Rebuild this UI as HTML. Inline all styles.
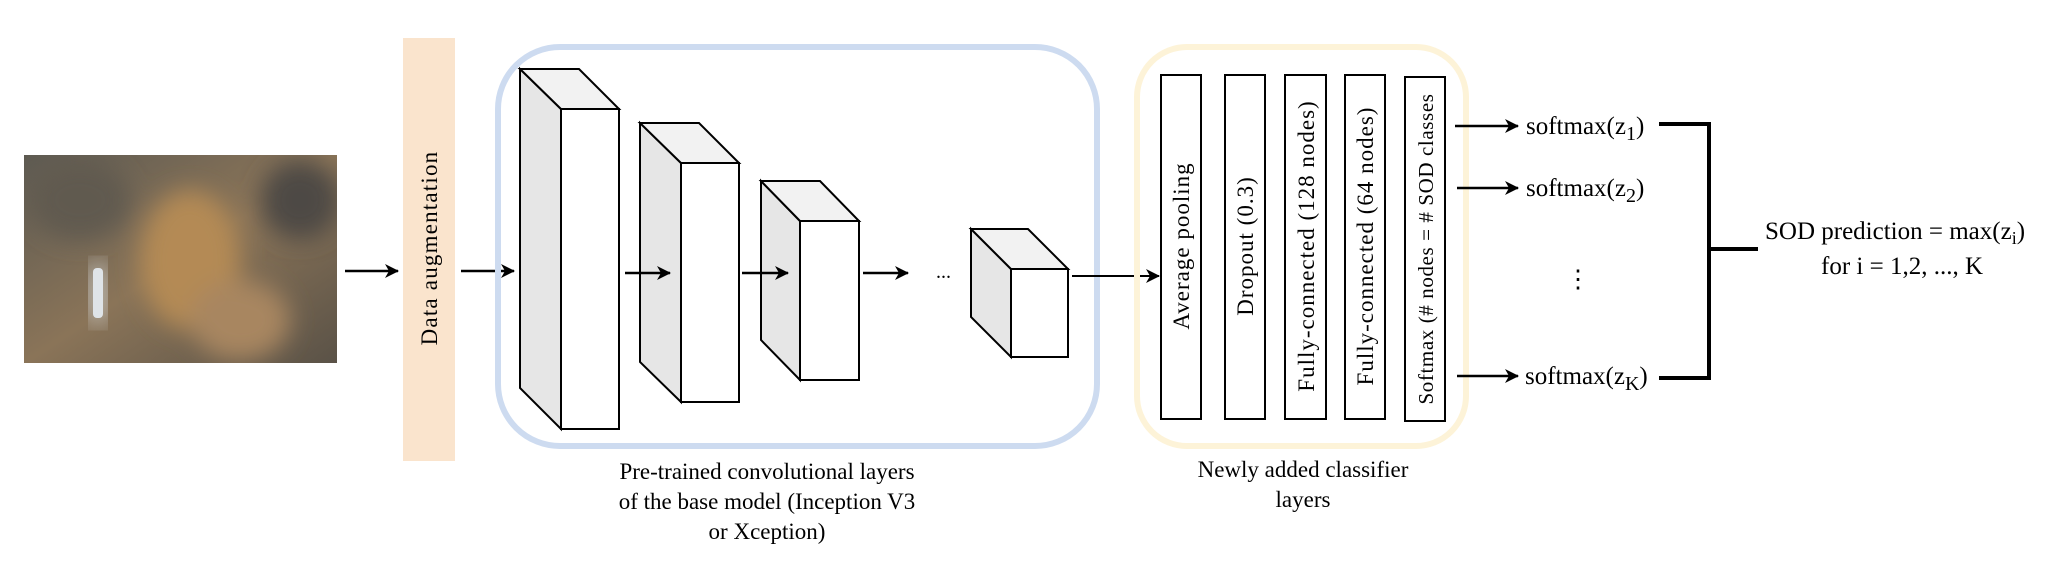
<!DOCTYPE html>
<html><head><meta charset="utf-8"><style>
html,body{margin:0;padding:0;background:#fff}
svg{display:block}
text{font-family:"Liberation Serif",serif;fill:#000}
</style></head><body>
<svg width="2064" height="578" viewBox="0 0 2064 578" xmlns="http://www.w3.org/2000/svg">
<defs>
<marker id="ah" markerWidth="14" markerHeight="14" refX="13" refY="7" orient="auto" markerUnits="userSpaceOnUse">
<path d="M0,0 L14,7 L0,14 L4,7 Z" fill="#000"/>
</marker>
<linearGradient id="ph" x1="0" y1="0" x2="1" y2="1">
<stop offset="0" stop-color="#5d5a52"/><stop offset="0.5" stop-color="#8a7458"/><stop offset="1" stop-color="#5a5247"/>
</linearGradient>
<filter id="bl"><feGaussianBlur stdDeviation="12"/></filter>
<clipPath id="pc"><rect x="24" y="155" width="313" height="208"/></clipPath>
</defs>
<g clip-path="url(#pc)">
<rect x="24" y="155" width="313" height="208" fill="url(#ph)"/>
<g filter="url(#bl)">
<ellipse cx="190" cy="260" rx="50" ry="70" fill="#b48a55"/>
<ellipse cx="240" cy="320" rx="50" ry="40" fill="#a88660"/>
<ellipse cx="300" cy="200" rx="40" ry="40" fill="#4e4a45"/>
<ellipse cx="80" cy="200" rx="50" ry="40" fill="#615a50"/>
</g>
<rect x="90" y="262" width="16" height="62" rx="6" fill="#d8dde0" filter="url(#bl)" opacity="0.9"/>
<rect x="93" y="268" width="10" height="50" rx="4" fill="#dfe4e8"/>
</g>
<rect x="403" y="38" width="52" height="423" fill="#fae4cd"/>
<text transform="translate(437,248) rotate(-90)" text-anchor="middle" font-size="23" letter-spacing="1.2">Data augmentation</text>
<line x1="345" y1="271" x2="398" y2="271" stroke="#000" stroke-width="2.5" marker-end="url(#ah)"/>
<line x1="461" y1="271" x2="514" y2="271" stroke="#000" stroke-width="2.5" marker-end="url(#ah)"/>
<rect x="498" y="47" width="599" height="399" rx="62" fill="none" stroke="#cddbf0" stroke-width="6"/>
<g stroke="#000" stroke-width="2" stroke-linejoin="miter">
<polygon points="520,69 561,109 561,429 520,388" fill="#e6e6e6"/>
<polygon points="520,69 579,69 619,109 561,109" fill="#f2f2f2"/>
<rect x="561" y="109" width="58" height="320" fill="#fff"/>
<polygon points="640,123 681,163 681,402 640,362" fill="#e6e6e6"/>
<polygon points="640,123 699,123 739,163 681,163" fill="#f2f2f2"/>
<rect x="681" y="163" width="58" height="239" fill="#fff"/>
<polygon points="761,181 800,221 800,380 761,340" fill="#e6e6e6"/>
<polygon points="761,181 820,181 859,221 800,221" fill="#f2f2f2"/>
<rect x="800" y="221" width="59" height="159" fill="#fff"/>
<polygon points="971,229 1011,269 1011,357 971,317" fill="#e6e6e6"/>
<polygon points="971,229 1028,229 1068,269 1011,269" fill="#f2f2f2"/>
<rect x="1011" y="269" width="57" height="88" fill="#fff"/>
</g>
<line x1="625" y1="273" x2="670" y2="273" stroke="#000" stroke-width="2.5" marker-end="url(#ah)"/>
<line x1="742" y1="273" x2="788" y2="273" stroke="#000" stroke-width="2.5" marker-end="url(#ah)"/>
<line x1="863" y1="273" x2="908" y2="273" stroke="#000" stroke-width="2.5" marker-end="url(#ah)"/>
<text x="936" y="278" font-size="20">...</text>
<line x1="1072" y1="276" x2="1159" y2="276" stroke="#000" stroke-width="2" marker-end="url(#ah)"/>
<rect x="1137" y="47" width="329" height="399" rx="50" fill="none" stroke="#fdf3d8" stroke-width="6"/>
<g fill="#fff" stroke="#000" stroke-width="2">
<rect x="1161" y="75" width="40" height="344"/>
<rect x="1225" y="75" width="40" height="344"/>
<rect x="1285" y="75" width="41" height="344"/>
<rect x="1345" y="75" width="40" height="344"/>
<rect x="1405" y="77" width="40" height="344"/>
</g>
<g font-size="23" text-anchor="middle">
<text transform="translate(1189,246) rotate(-90)" letter-spacing="1">Average pooling</text>
<text transform="translate(1253,246) rotate(-90)" letter-spacing="1">Dropout (0.3)</text>
<text transform="translate(1314,246) rotate(-90)" letter-spacing="1">Fully-connected (128 nodes)</text>
<text transform="translate(1373,246) rotate(-90)" letter-spacing="1">Fully-connected (64 nodes)</text>
<text transform="translate(1433,249) rotate(-90)" font-size="21" letter-spacing="0.6">Softmax (# nodes = # SOD classes</text>
</g>
<line x1="1455" y1="126" x2="1518" y2="126" stroke="#000" stroke-width="2.5" marker-end="url(#ah)"/>
<line x1="1457" y1="188" x2="1518" y2="188" stroke="#000" stroke-width="2.5" marker-end="url(#ah)"/>
<line x1="1457" y1="376" x2="1518" y2="376" stroke="#000" stroke-width="2.5" marker-end="url(#ah)"/>
<g font-size="25">
<text x="1526" y="134">softmax(z<tspan font-size="20" dy="6">1</tspan><tspan dy="-6">)</tspan></text>
<text x="1526" y="196">softmax(z<tspan font-size="20" dy="6">2</tspan><tspan dy="-6">)</tspan></text>
<text x="1525" y="384">softmax(z<tspan font-size="20" dy="6">K</tspan><tspan dy="-6">)</tspan></text>
<text x="1578" y="287" text-anchor="middle">⋮</text>
<text x="1765" y="239">SOD prediction =  max(z<tspan font-size="18" dy="5">i</tspan><tspan dy="-5">)</tspan></text>
<text x="1902" y="274" text-anchor="middle">for i = 1,2, ..., K</text>
</g>
<path d="M1659,124 H1709 V378 H1659 M1709,249 H1758" fill="none" stroke="#000" stroke-width="4"/>
<g font-size="23" text-anchor="middle">
<text x="767" y="479">Pre-trained convolutional layers</text>
<text x="767" y="509">of the base model (Inception V3</text>
<text x="767" y="539">or Xception)</text>
<text x="1303" y="477">Newly added classifier</text>
<text x="1303" y="507">layers</text>
</g>
</svg>
</body></html>
